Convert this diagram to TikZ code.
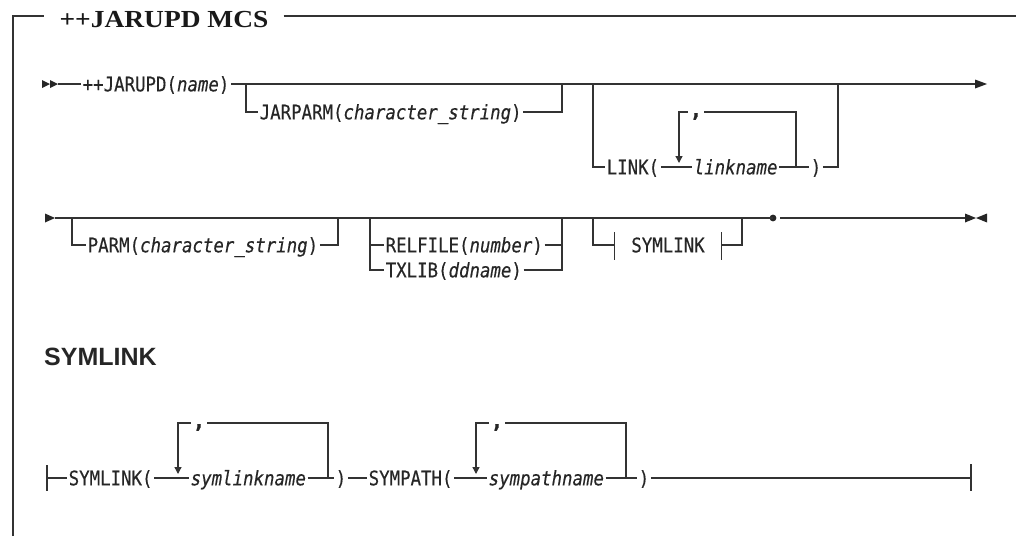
\documentclass[tikz,border=0pt]{standalone}
\usepackage{fontspec}
\usetikzlibrary{arrows.meta}
\newfontfamily\mono{DejaVu Sans Mono}[FakeBold=0.4]
\newfontfamily\hsans{Liberation Sans}
\newfontfamily\titlefont{Liberation Serif}
\newcommand{\mt}[1]{\scalebox{1}[1.15]{#1}}
\tikzset{
  ln/.style={line width=1.3pt, draw=black!80},
  tx/.style={font=\mono\fontsize{17.4}{20}\selectfont, inner xsep=1.5pt, inner ysep=0pt, text height=14.6pt, text depth=0pt, anchor=west, text=black!85},
  commatx/.style={font=\mono\bfseries\fontsize{21}{24}\selectfont, inner sep=0pt, minimum width=16pt, anchor=base, text=black!85},
  dnarrow/.style={ln, -{Triangle[length=7pt,width=7pt]}},
  endbar/.style={ln},
}
\begin{document}
\begin{tikzpicture}[x=1pt,y=-1pt]
\useasboundingbox (0,0) rectangle (1016,536);
% frame
\node[font=\titlefont\bfseries\fontsize{24.5}{28}\selectfont, inner xsep=15pt, inner ysep=0pt, anchor=base, text=black!90] (title) at (164,27) {\scalebox{1.12}[1]{++JARUPD MCS}};
\coordinate (fbl) at (13,536); \coordinate (ftl) at (13,16); \coordinate (ftr) at (1016,16);
\draw[ln] (fbl) -- (ftl) -- (title.west |- ftl);
\draw[ln] (title.east |- ftr) -- (ftr);

% ---------- row 1
\coordinate (s1) at (42,84); \coordinate (s1e) at (58,84);
\fill[black!85] (42,80) -- (50,84) -- (42,88) -- cycle;
\fill[black!85] (50,80) -- (58,84) -- (50,88) -- cycle;
\node[tx] (jarupd) at (81,84) {\mt{++JARUPD(\textit{name})}};
\draw[ln] (s1e) -- (jarupd.west);
\coordinate (e1) at (975,84);
\draw[ln] (jarupd.east) -- (e1);
\fill[black!85] (975,79.5) -- (987,84) -- (975,88.5) -- cycle;
% JARPARM
\coordinate (j1) at (246,84); \coordinate (j1b) at (246,112);
\node[tx] (jarparm) at (258,112) {\mt{JARPARM(\textit{character\_string})}};
\coordinate (j2b) at (562,112); \coordinate (j2) at (562,84);
\draw[ln] (j1) -- (j1b) -- (jarparm.west);
\draw[ln] (jarparm.east) -- (j2b) -- (j2);
% LINK
\coordinate (l1) at (593,84); \coordinate (l1b) at (593,167);
\node[tx] (link) at (605,167) {\mt{LINK(}};
\node[tx] (linkname) at (692,167) {\mt{\textit{linkname}}};
\node[tx, anchor=center] (rp1) at (816,167) {\mt{)}};
\coordinate (l2b) at (838,167); \coordinate (l2) at (838,84);
\draw[ln] (l1) -- (l1b) -- (link.west);
\draw[ln] (link.east) -- (linkname.west);
\draw[ln] (linkname.east) -- (rp1.west);
\draw[ln] (rp1.east) -- (l2b) -- (l2);
\coordinate (r1t) at (679,112); \coordinate (r1v) at (679,163);
\coordinate (r1tr) at (796,112); \coordinate (r1b) at (796,167);
\node[commatx] (c1) at (696,117) {,};
\draw[ln] (r1b) -- (r1tr) -- (c1.east |- r1tr);
\draw[dnarrow] (c1.west |- r1t) -- (r1t) -- (r1v);

% ---------- row 2
\coordinate (s2) at (55,218);
\fill[black!85] (45,213.5) -- (55,218) -- (45,222.5) -- cycle;
\coordinate (dotc) at (773,218);
\fill[black!85] (dotc) circle (3.4);
\draw[ln] (s2) -- (dotc);
\coordinate (d2) at (780,218);
\coordinate (e2) at (965,218);
\draw[ln] (d2) -- (e2);
\fill[black!85] (965,213.5) -- (976,218) -- (965,222.5) -- cycle;
\fill[black!85] (987,213.5) -- (976,218) -- (987,222.5) -- cycle;
% PARM
\coordinate (p1) at (72,218); \coordinate (p1b) at (72,245);
\node[tx] (parm) at (86,245) {\mt{PARM(\textit{character\_string})}};
\coordinate (p2b) at (338,245); \coordinate (p2) at (338,218);
\draw[ln] (p1) -- (p1b) -- (parm.west);
\draw[ln] (parm.east) -- (p2b) -- (p2);
% RELFILE / TXLIB
\coordinate (rf1) at (370,218); \coordinate (rf1m) at (370,245); \coordinate (rf1b) at (370,270);
\node[tx] (relfile) at (384,245) {\mt{RELFILE(\textit{number})}};
\node[tx] (txlib) at (384,270) {\mt{TXLIB(\textit{ddname})}};
\coordinate (rf2) at (562,218); \coordinate (rf2m) at (562,245); \coordinate (rf2b) at (562,270);
\draw[ln] (rf1) -- (rf1b) -- (txlib.west);
\draw[ln] (rf1m) -- (relfile.west);
\draw[ln] (relfile.east) -- (rf2m);
\draw[ln] (txlib.east) -- (rf2b) -- (rf2);
% SYMLINK fragment
\coordinate (sy1) at (593,218); \coordinate (sy1b) at (593,245);
\node[tx, anchor=center, minimum width=106pt] (symfrag) at (668,245) {\mt{SYMLINK}};
\coordinate (sy2b) at (742,245); \coordinate (sy2) at (742,218);
\draw[ln] (sy1) -- (sy1b) -- (symfrag.west);
\draw[ln] (symfrag.east) -- (sy2b) -- (sy2);
\draw[endbar] ([yshift=13pt]symfrag.west) -- ([yshift=-15pt]symfrag.west);
\draw[endbar] ([yshift=13pt]symfrag.east) -- ([yshift=-15pt]symfrag.east);

% ---------- SYMLINK fragment definition
\node[font=\hsans\bfseries\fontsize{25}{28}\selectfont, anchor=base west, inner sep=0pt, text=black!85] (symhead) at (44,365) {SYMLINK};

\coordinate (s3) at (47,478); \coordinate (s3t) at (47,465); \coordinate (s3b) at (47,491);
\draw[endbar] (s3t) -- (s3b);
\node[tx] (symlinkp) at (67,478) {\mt{SYMLINK(}};
\node[tx] (symlinkname) at (189,478) {\mt{\textit{symlinkname}}};
\node[tx, anchor=center] (rp3) at (341,478) {\mt{)}};
\node[tx] (sympath) at (367,478) {\mt{SYMPATH(}};
\node[tx] (sympathname) at (487,478) {\mt{\textit{sympathname}}};
\node[tx, anchor=center] (rp4) at (644,478) {\mt{)}};
\coordinate (e3) at (971,478); \coordinate (e3t) at (971,464); \coordinate (e3b) at (971,491);
\draw[ln] (s3) -- (symlinkp.west);
\draw[ln] (symlinkp.east) -- (symlinkname.west);
\draw[ln] (symlinkname.east) -- (rp3.west);
\draw[ln] (rp3.east) -- (sympath.west);
\draw[ln] (sympath.east) -- (sympathname.west);
\draw[ln] (sympathname.east) -- (rp4.west);
\draw[ln] (rp4.east) -- (e3);
\draw[endbar] (e3t) -- (e3b);
% repeats
\coordinate (r3t) at (178,423); \coordinate (r3v) at (178,474);
\coordinate (r3tr) at (328,423); \coordinate (r3b) at (328,478);
\node[commatx] (c3) at (199,428) {,};
\draw[ln] (r3b) -- (r3tr) -- (c3.east |- r3tr);
\draw[dnarrow] (c3.west |- r3t) -- (r3t) -- (r3v);
\coordinate (r4t) at (476,423); \coordinate (r4v) at (476,474);
\coordinate (r4tr) at (626,423); \coordinate (r4b) at (626,478);
\node[commatx] (c4) at (497,428) {,};
\draw[ln] (r4b) -- (r4tr) -- (c4.east |- r4tr);
\draw[dnarrow] (c4.west |- r4t) -- (r4t) -- (r4v);
\end{tikzpicture}
\end{document}
